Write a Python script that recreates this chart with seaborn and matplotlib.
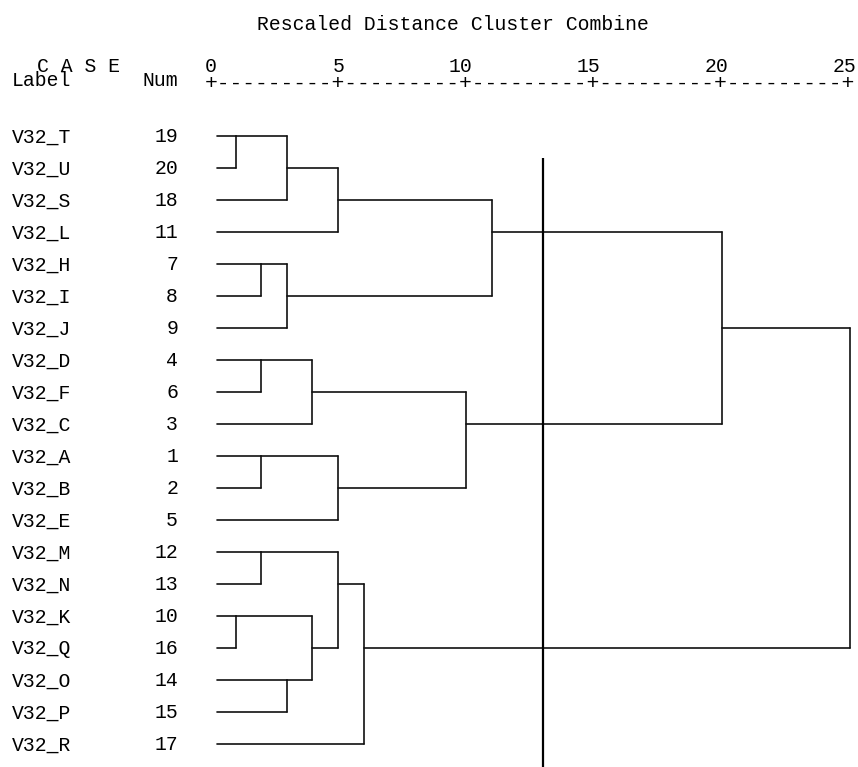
import numpy as np
import pandas as pd
import matplotlib
matplotlib.use("Agg")
import matplotlib.pyplot as plt
import seaborn as sns

# ---------------- data ----------------
case_labels = ["V32_T", "V32_U", "V32_S", "V32_L", "V32_H", "V32_I", "V32_J",
               "V32_D", "V32_F", "V32_C", "V32_A", "V32_B", "V32_E", "V32_M",
               "V32_N", "V32_K", "V32_Q", "V32_O", "V32_P", "V32_R"]
case_nums = [19, 20, 18, 11, 7, 8, 9, 4, 6, 3, 1, 2, 5, 12, 13, 10, 16, 14, 15, 17]

# agglomeration schedule: (node a, node b, rescaled distance); leaves are 0..19
merge_a = [0, 15, 4, 7, 10, 13, 20, 22, 17, 23, 21, 26, 24, 25, 33, 29, 31, 36, 37]
merge_b = [1, 16, 5, 8, 11, 14, 2, 6, 18, 9, 28, 3, 12, 30, 19, 32, 27, 35, 34]
merge_h = [1, 1, 2, 2, 2, 2, 3, 3, 3, 4, 4, 5, 5, 5, 6, 10, 11, 20, 25]

scale_ticks = [0, 5, 10, 15, 20, 25]
cut_height = [13]

title_text = "Rescaled Distance Cluster Combine"

# ---------------- build segments ----------------
n = len(case_labels)
leaf_start = 0.27
node_row = {i: i for i in range(n)}
node_x = {i: leaf_start for i in range(n)}
rows = []
seg = 0
for k, (a, b, h) in enumerate(zip(merge_a, merge_b, merge_h)):
    for c in (a, b):
        rows.append((seg, node_x[c], node_row[c])); rows.append((seg, h, node_row[c])); seg += 1
    rows.append((seg, h, node_row[a])); rows.append((seg, h, node_row[b])); seg += 1
    nid = n + k
    node_row[nid] = int(np.floor((node_row[a] + node_row[b]) / 2))
    node_x[nid] = h
df = pd.DataFrame(rows, columns=["seg", "dist", "row"])

# ---------------- figure ----------------
sns.set_theme(style="white")
plt.rcParams["font.family"] = ["Liberation Mono", "DejaVu Sans Mono"]

W, H = 858, 767
fig = plt.figure(figsize=(W / 100, H / 100), dpi=100)
ax = fig.add_axes([0, 0, 1, 1])
ppu = 25.6            # pixels per distance unit
x0 = 210              # pixel of distance 0
row0, rowpitch = 136, 32
ax.set_xlim(-x0 / ppu, (W - x0) / ppu)
ax.set_ylim((H - row0) / rowpitch, -row0 / rowpitch)
ax.axis("off")

def px_x(p):
    return (p - x0) / ppu

def px_y(p):
    return (p - row0) / rowpitch

sns.lineplot(data=df, x="dist", y="row", units="seg", estimator=None, sort=False,
             color="#111111", lw=1.2, legend=False, ax=ax)

# cutoff line
ax.plot([cut_height[0], cut_height[0]], [px_y(158), px_y(H)], color="black", lw=1.6,
        solid_capstyle="butt")

fs = 14.2
tc = "black"
# case labels
for i, (lab, num) in enumerate(zip(case_labels, case_nums)):
    ax.text(px_x(12), i + 6.5 / rowpitch, lab, ha="left", va="baseline", fontsize=fs, color=tc)
    ax.text(px_x(178), i + 6.5 / rowpitch, str(num), ha="right", va="baseline", fontsize=fs, color=tc)

# header
ax.text(px_x(453), px_y(30), title_text, ha="center", va="baseline", fontsize=fs, color=tc)
ax.text(px_x(37), px_y(72), "C A S E", ha="left", va="baseline", fontsize=fs, color=tc)
ax.text(px_x(12), px_y(86), "Label", ha="left", va="baseline", fontsize=fs, color=tc)
ax.text(px_x(178), px_y(86), "Num", ha="right", va="baseline", fontsize=fs, color=tc)
for t in scale_ticks:
    ax.text(t + 6.2 / ppu, px_y(72), str(t), ha="right", va="baseline", fontsize=fs, color=tc)
scale_str = "+" + "+".join(["-" * 9] * (len(scale_ticks) - 1)) + "+"
ax.text((scale_ticks[0] + scale_ticks[-1]) / 2, px_y(89), scale_str, ha="center",
        va="baseline", fontsize=15.3, color=tc)

fig.savefig("out.png", dpi=100)
